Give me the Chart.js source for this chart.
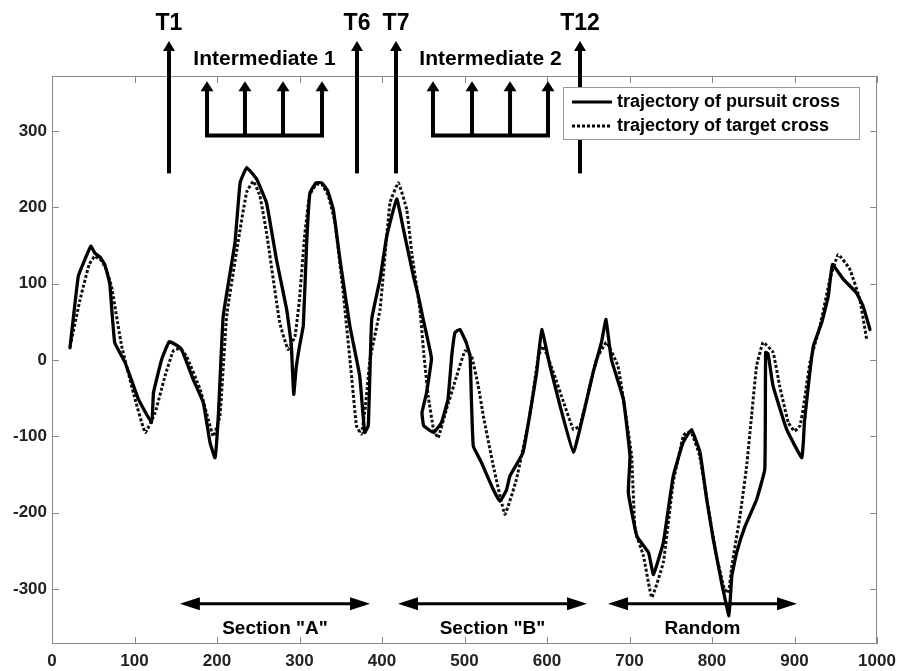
<!DOCTYPE html>
<html><head><meta charset="utf-8">
<script src="https://cdn.jsdelivr.net/npm/chart.js@4/dist/chart.umd.min.js"></script>
<style>html,body{margin:0;padding:0;background:#fff}#wrap{width:899px;height:671px}</style>
</head><body><div id="wrap"><canvas id="c" width="899" height="671"></canvas></div>
<script>
// ---- data ----
const pursuitX = [21.8,31.9,40,47,52,58,64,70,76,88.5,104.6,120.8,123,133,142,150,157,171,183.4,191.5,197.6,201.6,207.6,221.8,228,236,248,260,272,284.5,290,293,296,300,304.6,308.7,312.7,320,327,334,341,349,361,373,379,383.4,387.5,397.6,405.7,417.8,426,438,444,450,458,460,454,448.5,450.5,462.5,472,480,484.5,488.5,494.5,502,506.7,508.5,510.7,520,535,543,551,555,571,587.5,593.6,603.6,615.8,632,644.6,656,666,671.5,678,692.5,700.6,698.6,709,723,729,741,753,765,775,785.5,793.6,801.6,811.7,820.6,824,830,840,854,864,865,868,874,890.5,908.7,910.7,912,922.8,933,941,946,959,975,983,991.5];
const pursuitY = [16,110,132,149,140,135,125,100,23,-3,-51,-82,-43,1,24,20,14,-25,-56,-108,-128,-73,58,154,232,252,237,206,132,66,20,-45,-10,18,45,154,219,232,232,222,197,132,45,-21,-95,-86,53,106,162,211,171,110,84,53,14,1,-43,-69,-86,-95,-82,-51,5,36,40,23,5,-56,-113,-133,-170,-185,-170,-152,-121,-16,40,-8,-60,-121,-69,-16,23,53,1,-51,-126,-174,-231,-252,-281,-239,-152,-108,-91,-121,-183,-235,-292,-335,-283,-252,-218,-183,-143,10,8,-34,-91,-128,-108,-82,18,49,84,125,106,88,71,40];
const targetX = [22,34,45,52,60,66,72,84.5,100.6,113,125,137,147,155,163,179.4,195.5,203.6,211.8,228,236,244,252,260,276,286,294.5,300,306,312,320,327,335,343,353,363,369,375,380,385.5,397.6,409.7,419.8,430,436,446,450.5,456,462.5,468,478,490.5,500.6,508.5,516.7,522.8,535,549,563,579,589.5,595.5,607.6,620,632,640,660,672,686,694.5,702.6,706.7,717,727,741,753,765,769,775,785,795,805,815,820,824,834,842,848,854,862,874,882,892.5,900,906.7,911,918.8,931,943,953,967,979,987.5];
const targetY = [18,79,125,136,130,118,97,18,-51,-95,-69,-21,12,15,5,-38,-100,-73,58,171,220,234,215,167,49,14,31,80,160,215,230,230,215,180,88,-20,-86,-97,-60,1,66,206,232,197,141,66,10,-47,-91,-102,-65,-21,12,5,-34,-73,-139,-202,-156,-73,5,18,-16,-55,-91,-86,1,23,-8,-65,-126,-222,-257,-311,-265,-160,-100,-95,-95,-125,-190,-255,-300,-305,-270,-204,-139,-73,-8,23,10,-34,-82,-93,-86,-60,-3,45,106,138,119,80,27];
const xTicks = [0,100,200,300,400,500,600,700,800,900,1000];
const yTicks = [-300,-200,-100,0,100,200,300];
const seriesNames = ['trajectory of pursuit cross','trajectory of target cross'];

// ---- annotations (data units) ----
const tLabels = ['T1','T6','T7','T12'];
const tArrowX = [141.8,369.7,417,640];
const tArrowY = [244.4,417.7];
const tLabelY = 441;
const inter1X = [187.9,233.9,280,327.3];
const inter2X = [461.8,509.1,555.2,601.2];
const interLabels = ['Intermediate 1','Intermediate 2'];
const interBaseY = 294.2, interTipY = 365, interLabelY = 394;
const sectionLabels = ['Section "A"','Section "B"','Random'];
const sectionFrom = [155,419.4,674];
const sectionTo = [385.5,648.5,903];
const sectionY = -319.3, sectionLabelY = -351.5;

const FONT = '"Liberation Sans", Arial, sans-serif';
const pts = (xs,ys)=>xs.map((x,i)=>({x:x,y:ys[i]}));

function arrowHead(ctx,x,y,dir,len,half){
  ctx.beginPath();
  if(dir==='up'){ctx.moveTo(x,y);ctx.lineTo(x-half,y+len);ctx.lineTo(x+half,y+len);}
  else if(dir==='left'){ctx.moveTo(x,y);ctx.lineTo(x+len,y-half);ctx.lineTo(x+len,y+half);}
  else {ctx.moveTo(x,y);ctx.lineTo(x-len,y-half);ctx.lineTo(x-len,y+half);}
  ctx.closePath();ctx.fill();
}

const deco = {
  id:'deco',
  beforeDatasetsDraw(chart){
    const {ctx,chartArea:a,scales:{x,y}} = chart;
    ctx.save();
    ctx.strokeStyle='#8a8a8a';ctx.lineWidth=1;
    ctx.strokeRect(a.left+0.5,a.top+0.5,a.right-a.left-1,a.bottom-a.top-1);
    ctx.beginPath();
    xTicks.forEach(v=>{const p=Math.round(x.getPixelForValue(v))+0.5;
      ctx.moveTo(p,a.bottom);ctx.lineTo(p,a.bottom-7);ctx.moveTo(p,a.top);ctx.lineTo(p,a.top+7);});
    yTicks.forEach(v=>{const p=Math.round(y.getPixelForValue(v))+0.5;
      ctx.moveTo(a.left,p);ctx.lineTo(a.left+7,p);ctx.moveTo(a.right,p);ctx.lineTo(a.right-7,p);});
    ctx.stroke();
    ctx.restore();
  },
  afterDatasetsDraw(chart){
    const {ctx,chartArea:a,scales:{x,y}} = chart;
    ctx.save();
    ctx.fillStyle='#000';ctx.strokeStyle='#000';
    const yb=y.getPixelForValue(tArrowY[0]), yt=y.getPixelForValue(tArrowY[1]);
    tArrowX.forEach((v,i)=>{
      const px=x.getPixelForValue(v);
      ctx.lineWidth=4;ctx.beginPath();ctx.moveTo(px,yb);ctx.lineTo(px,yt+8);ctx.stroke();
      arrowHead(ctx,px,yt,'up',10,6);
      ctx.font='bold 23px '+FONT;ctx.textAlign='center';ctx.textBaseline='middle';
      ctx.fillText(tLabels[i],px,y.getPixelForValue(tLabelY));
    });
    [inter1X,inter2X].forEach((xs,k)=>{
      const by=y.getPixelForValue(interBaseY), ty=y.getPixelForValue(interTipY);
      const p=xs.map(v=>x.getPixelForValue(v));
      ctx.lineWidth=4;ctx.beginPath();
      ctx.moveTo(p[0]-2,by);ctx.lineTo(p[p.length-1]+2,by);
      p.forEach(px=>{ctx.moveTo(px,by);ctx.lineTo(px,ty+8);});
      ctx.stroke();
      p.forEach(px=>arrowHead(ctx,px,ty,'up',10,6.5));
      ctx.font='bold 21px '+FONT;ctx.textAlign='center';ctx.textBaseline='middle';
      ctx.fillText(interLabels[k],(p[0]+p[p.length-1])/2,y.getPixelForValue(interLabelY));
    });
    const sy=y.getPixelForValue(sectionY);
    sectionFrom.forEach((v,i)=>{
      const x0=x.getPixelForValue(v), x1=x.getPixelForValue(sectionTo[i]);
      ctx.lineWidth=3;ctx.beginPath();ctx.moveTo(x0+10,sy);ctx.lineTo(x1-10,sy);ctx.stroke();
      arrowHead(ctx,x0,sy,'left',20,6.5);arrowHead(ctx,x1,sy,'right',20,6.5);
      ctx.font='bold 19px '+FONT;ctx.textAlign='center';ctx.textBaseline='middle';
      ctx.fillText(sectionLabels[i],(x0+x1)/2,y.getPixelForValue(sectionLabelY));
    });
    const lw=296, lh=52, lx=a.right-lw-18, ly=a.top+11;
    ctx.fillStyle='#fff';ctx.fillRect(lx,ly,lw,lh);
    ctx.strokeStyle='#999';ctx.lineWidth=1;ctx.strokeRect(lx+0.5,ly+0.5,lw,lh);
    ctx.strokeStyle='#000';ctx.fillStyle='#000';
    ctx.font='bold 18px '+FONT;ctx.textAlign='left';ctx.textBaseline='middle';
    [[],[3,2]].forEach((d,i)=>{
      const yy=ly+15+i*24;
      ctx.lineWidth=3;ctx.setLineDash(d);ctx.beginPath();ctx.moveTo(lx+9,yy);ctx.lineTo(lx+49,yy);ctx.stroke();
      ctx.setLineDash([]);
      ctx.fillText(seriesNames[i],lx+54,yy);
    });
    ctx.restore();
  }
};

new Chart(document.getElementById('c'),{
  type:'scatter',
  data:{datasets:[
    {label:seriesNames[0],data:pts(pursuitX,pursuitY),showLine:true,borderColor:'#000',borderWidth:3.3,pointRadius:0,tension:0.1,borderJoinStyle:'round',borderCapStyle:'round'},
    {label:seriesNames[1],data:pts(targetX,targetY),showLine:true,borderColor:'#111',borderWidth:3,borderDash:[3,2],pointRadius:0,tension:0.1}
  ]},
  options:{
    responsive:false,animation:false,
    layout:{padding:{left:0,top:76,right:22,bottom:0}},
    plugins:{legend:{display:false},tooltip:{enabled:false}},
    scales:{
      x:{type:'linear',min:0,max:1000,
        afterBuildTicks:s=>{s.ticks=xTicks.map(v=>({value:v}));},
        afterFit:s=>{s.height=27;s.paddingLeft=0;s.paddingRight=0;},
        grid:{display:false,drawTicks:false},border:{display:false},
        ticks:{padding:7,color:'#222',font:{family:FONT,size:17,weight:'bold'},maxRotation:0,callback:v=>String(v)}},
      y:{type:'linear',min:-372,max:372,
        afterBuildTicks:s=>{s.ticks=yTicks.map(v=>({value:v}));},
        afterFit:s=>{s.width=52;s.paddingTop=0;s.paddingBottom=0;},
        grid:{display:false,drawTicks:false},border:{display:false},
        ticks:{padding:5,color:'#222',font:{family:FONT,size:17,weight:'bold'},callback:v=>String(v)}}
    }
  },
  plugins:[deco]
});
</script></body></html>
